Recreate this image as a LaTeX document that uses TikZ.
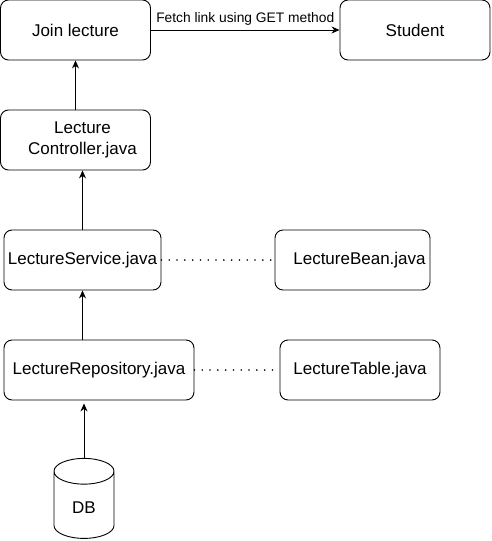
\documentclass[tikz,border=0pt]{standalone}
\usepackage{fontspec}
\setmainfont{Liberation Sans}
\usepackage{tikz}
\usetikzlibrary{arrows.meta,shapes.geometric}

\begin{document}
\begin{tikzpicture}[x=1pt,y=-1pt,>={Stealth[length=8pt,width=7pt]},
		box/.style={draw,rounded corners=8pt,line width=0.9pt,minimum height=60pt,align=center,font=\fontsize{17}{21}\selectfont},
		dots/.style={line width=1.8pt,dash pattern=on 0pt off 7.8pt,line cap=round}]
		\useasboundingbox (0,0) rectangle (491,541);
		\node[box,minimum width=150pt] (join) at (75.5,30) {Join lecture};
		\node[box,minimum width=150pt] (student) at (415,30) {Student};
		\node[box,minimum width=150pt] (ctrl) at (75.5,140) {\hspace*{14pt}Lecture\\\hspace*{14pt}Controller.java};
		\node[box,minimum width=157pt,inner xsep=1pt] (service) at (82.5,260) {LectureService.java};
		\node[box,minimum width=155pt] (bean) at (352.5,260) {\hspace*{14pt}LectureBean.java};
		\node[box,minimum width=190pt] (repo) at (99,370) {LectureRepository.java};
		\node[box,minimum width=160pt] (table) at (360,370) {LectureTable.java};
		\node[draw,line width=0.9pt,cylinder,shape border rotate=90,aspect=0.85,minimum width=60pt,minimum height=80pt,font=\fontsize{17}{21}\selectfont] (db) at (84,508) {DB};
		\draw[->,line width=0.9pt] (join) -- node[above=1pt,font=\fontsize{13.8}{16}\selectfont]{Fetch link using GET method} (student);
		\draw[->,line width=0.9pt] (ctrl.north) -- (ctrl.north |- join.south);
		\draw[->,line width=0.9pt] (service.north) -- (service.north |- ctrl.south);
		\draw[->,line width=0.9pt] (service.south |- repo.north) -- (service.south);
		\draw[->,line width=0.9pt,shorten >=3pt] (db.north) -- (db.north |- repo.south);
		\draw[dots] (service) -- (bean);
		\draw[dots] (repo) -- (table);
\end{tikzpicture}
\end{document}
